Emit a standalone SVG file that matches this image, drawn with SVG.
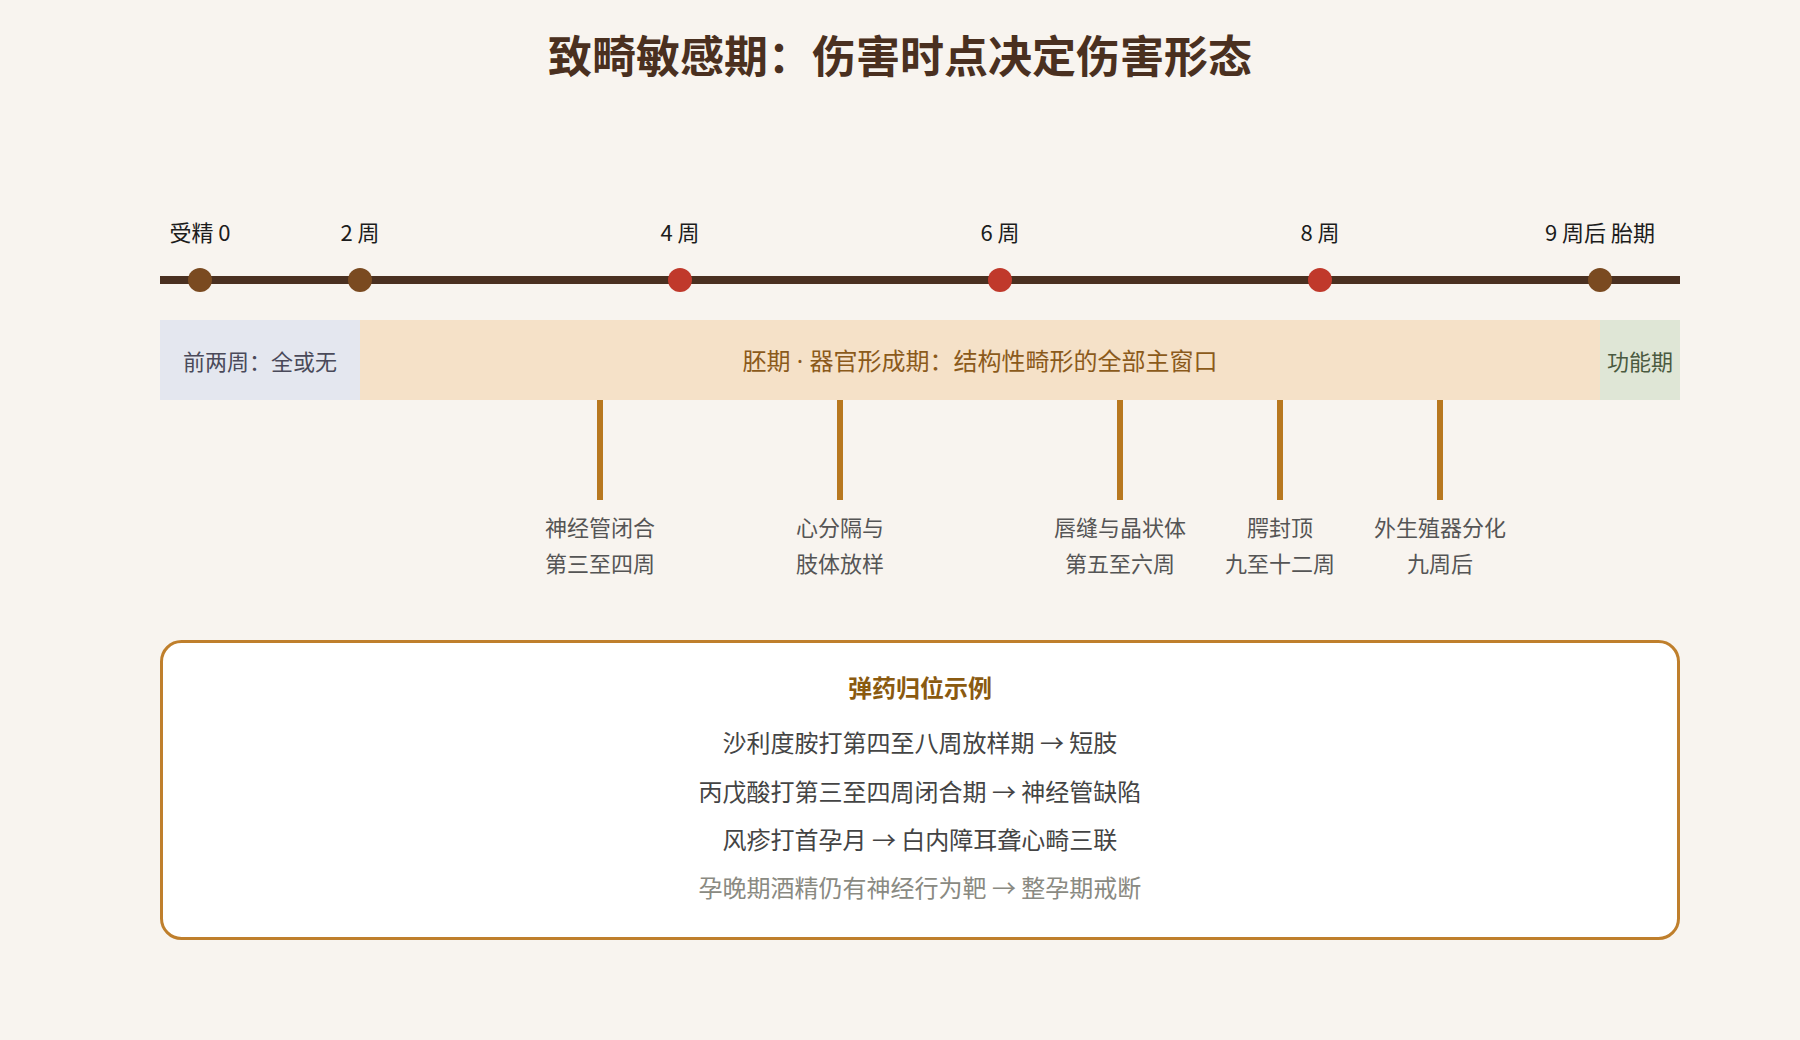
<svg xmlns="http://www.w3.org/2000/svg" width="1800" height="1040" viewBox="0 0 1800 1040">
  <style>
    text { font-family: "Noto Sans CJK SC", "Noto Sans", sans-serif; }
    .title { font-size: 44px; font-weight: 700; fill: #4a3020; }
    .tl { font-size: 22px; fill: #1c1c1c; }
    .dot-b { fill: #7a4a20; }
    .dot-r { fill: #c0392b; }
    .ms { font-size: 22px; fill: #555555; }
    .tick { stroke: #b87820; stroke-width: 6; }
    .boxhdr { font-size: 24px; font-weight: 700; fill: #8a5a10; }
    .boxln { font-size: 24px; fill: #444444; }
    .boxln2 { font-size: 24px; fill: #8a8a82; }
    .latin { font-family: "Noto Sans", "Liberation Sans", sans-serif; }
  </style>
  <rect x="0" y="0" width="1800" height="1040" fill="#f8f4ef"/>
  <text class="title" x="900" y="73" text-anchor="middle">致畸敏感期：伤害时点决定伤害形态</text>

  <g id="timeline">
    <line x1="160" y1="280" x2="1680" y2="280" stroke="#4a3020" stroke-width="8"/>
    <g id="t0"><circle class="dot-b" cx="200" cy="280" r="12"/><text class="tl" x="200" y="241" text-anchor="middle">受精 0</text></g>
    <g id="t2"><circle class="dot-b" cx="360" cy="280" r="12"/><text class="tl" x="360" y="241" text-anchor="middle">2 周</text></g>
    <g id="t4"><circle class="dot-r" cx="680" cy="280" r="12"/><text class="tl" x="680" y="241" text-anchor="middle">4 周</text></g>
    <g id="t6"><circle class="dot-r" cx="1000" cy="280" r="12"/><text class="tl" x="1000" y="241" text-anchor="middle">6 周</text></g>
    <g id="t8"><circle class="dot-r" cx="1320" cy="280" r="12"/><text class="tl" x="1320" y="241" text-anchor="middle">8 周</text></g>
    <g id="t9"><circle class="dot-b" cx="1600" cy="280" r="12"/><text class="tl" x="1600" y="241" text-anchor="middle">9 周后 胎期</text></g>
  </g>

  <g id="band-early">
    <rect x="160" y="320" width="200" height="80" fill="#e4e7ef"/>
    <text x="260" y="370" text-anchor="middle" font-size="22" fill="#4a4a5a">前两周：全或无</text>
  </g>
  <g id="band-embryo">
    <rect x="360" y="320" width="1240" height="80" fill="#f5e1c8"/>
    <text x="980" y="370" text-anchor="middle" font-size="24" fill="#8b5a1b">胚期<tspan class="latin"> · </tspan>器官形成期：结构性畸形的全部主窗口</text>
  </g>
  <g id="band-fetal">
    <rect x="1600" y="320" width="80" height="80" fill="#dfe6d6"/>
    <text x="1640" y="370" text-anchor="middle" font-size="22" fill="#4a5a40">功能期</text>
  </g>

  <g id="connectors">
    <line class="tick" x1="600" y1="400" x2="600" y2="500"/>
    <line class="tick" x1="840" y1="400" x2="840" y2="500"/>
    <line class="tick" x1="1120" y1="400" x2="1120" y2="500"/>
    <line class="tick" x1="1280" y1="400" x2="1280" y2="500"/>
    <line class="tick" x1="1440" y1="400" x2="1440" y2="500"/>
  </g>

  <g id="m-neural"><text class="ms" x="600" y="536" text-anchor="middle">神经管闭合</text><text class="ms" x="600" y="572" text-anchor="middle">第三至四周</text></g>
  <g id="m-heart"><text class="ms" x="840" y="536" text-anchor="middle">心分隔与</text><text class="ms" x="840" y="572" text-anchor="middle">肢体放样</text></g>
  <g id="m-lip"><text class="ms" x="1120" y="536" text-anchor="middle">唇缝与晶状体</text><text class="ms" x="1120" y="572" text-anchor="middle">第五至六周</text></g>
  <g id="m-palate"><text class="ms" x="1280" y="536" text-anchor="middle">腭封顶</text><text class="ms" x="1280" y="572" text-anchor="middle">九至十二周</text></g>
  <g id="m-genital"><text class="ms" x="1440" y="536" text-anchor="middle">外生殖器分化</text><text class="ms" x="1440" y="572" text-anchor="middle">九周后</text></g>

  <g id="examples">
    <rect x="161.5" y="641.5" width="1517" height="297" rx="20" ry="20" fill="#ffffff" stroke="#bf7f2c" stroke-width="3"/>
    <text class="boxhdr" x="920" y="697" text-anchor="middle">弹药归位示例</text>
    <text class="boxln" x="920" y="752" text-anchor="middle">沙利度胺打第四至八周放样期 → 短肢</text>
    <text class="boxln" x="920" y="801" text-anchor="middle">丙戊酸打第三至四周闭合期 → 神经管缺陷</text>
    <text class="boxln" x="920" y="849" text-anchor="middle">风疹打首孕月 → 白内障耳聋心畸三联</text>
    <text class="boxln2" x="920" y="897" text-anchor="middle">孕晚期酒精仍有神经行为靶 → 整孕期戒断</text>
  </g>
</svg>
